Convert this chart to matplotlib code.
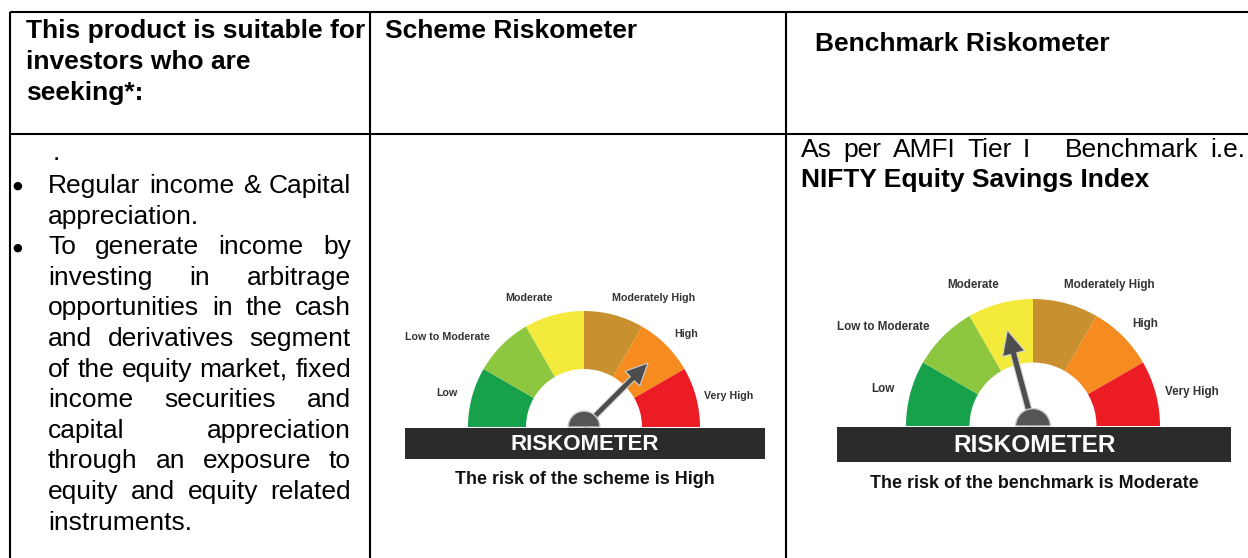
import numpy as np
import matplotlib.pyplot as plt
from matplotlib.patches import Wedge, Rectangle, FancyArrow

plt.rcParams['font.family'] = ['Liberation Sans', 'DejaVu Sans']

# riskometer data
risk_levels = ["Low", "Low to Moderate", "Moderate", "Moderately High", "High", "Very High"]
risk_colors = ["#17a14b", "#8dc63f", "#f3ea3b", "#c8902f", "#f68b1f", "#ec1c24"]
scheme_risk = "High"
benchmark_risk = "Moderate"

# table text
header_left = ["This product is suitable for", "investors who are", "seeking*:"]
header_scheme = "Scheme Riskometer"
header_bench = "Benchmark Riskometer"
objective_lines = [
    ("Regular income & Capital", True, True),
    ("appreciation.", False, False),
    ("To generate income by", True, True),
    ("investing in arbitrage", True, False),
    ("opportunities in the cash", True, False),
    ("and derivatives segment", True, False),
    ("of the equity market, fixed", True, False),
    ("income securities and", True, False),
    ("capital appreciation", True, False),
    ("through an exposure to", True, False),
    ("equity and equity related", True, False),
    ("instruments.", False, False),
]
bench_note = "As per AMFI Tier I   Benchmark i.e."
bench_name = "NIFTY Equity Savings Index"

# label offsets around the dial (in units of outer radius, x right / y up)
label_offsets = [(-1.18, 0.29), (-1.18, 0.78), (-0.47, 1.11),
                 (0.60, 1.11), (0.88, 0.80), (1.25, 0.27)]

W, H = 1248, 558
fig = plt.figure(figsize=(W / 100, H / 100), dpi=100)
ax = fig.add_axes([0, 0, 1, 1])
ax.set_xlim(0, W)
ax.set_ylim(H, 0)
ax.axis('off')
renderer = fig.canvas.get_renderer()

# table grid
lw = 1.5
for x in [10, 370, 786]:
    ax.plot([x, x], [12, H], color='black', lw=lw, solid_capstyle='butt')
for y in [12, 134]:
    ax.plot([10, W], [y, y], color='black', lw=lw, solid_capstyle='butt')


def put_line(x0, x1, y, s, justify, **kw):
    words = s.split(' ')
    if not justify or len(words) == 1:
        ax.text(x0, y, s, ha='left', va='baseline', **kw)
        return
    texts = [ax.text(0, y, w, ha='left', va='baseline', **kw) for w in words]
    widths = [t.get_window_extent(renderer).width if w else 0 for t, w in zip(texts, words)]
    gap = (x1 - x0 - sum(widths)) / (len(words) - 1)
    x = x0
    for t, w in zip(texts, widths):
        t.set_x(x)
        x += w + gap


fs = 19
# headers
for i, s in enumerate(header_left):
    ax.text(26, 38 + 31 * i, s, fontsize=fs, fontweight='bold', va='baseline')
ax.text(385, 38, header_scheme, fontsize=fs, fontweight='bold', va='baseline')
ax.text(815, 51, header_bench, fontsize=fs, fontweight='bold', va='baseline')

# objectives column
ax.text(53, 160, ".", fontsize=fs, va='baseline')
for i, (s, just, bullet) in enumerate(objective_lines):
    y = 193 + 30.6 * i
    if bullet:
        ax.text(17, y - 7, "\u25cf", fontsize=8, ha='center', va='center',
                family='DejaVu Sans')
    put_line(48, 351, y, s, just, fontsize=fs)

# benchmark note
put_line(801, 1245, 157, bench_note, True, fontsize=fs)
ax.text(801, 187, bench_name, fontsize=fs, fontweight='bold', va='baseline')


def draw_gauge(cx, cy, R, level, caption):
    r_in = 0.5 * R
    for i, c in enumerate(risk_colors):
        ax.add_patch(Wedge((cx, cy), R, 180 + 30 * i, 210 + 30 * i,
                           width=R - r_in, facecolor=c, edgecolor='none'))
    k = 0.066 * R  # label font size
    for name, (dx, dy) in zip(risk_levels, label_offsets):
        ax.text(cx + dx * R, cy - dy * R, name, fontsize=k, fontweight='bold',
                color='#333333', ha='center', va='center')
    idx = risk_levels.index(level)
    a = np.radians(180 - 30 * idx - 15)
    L = 0.78 * R
    ax.add_patch(FancyArrow(cx, cy, L * np.cos(a), -L * np.sin(a), width=0.05 * R,
                            head_width=0.18 * R, head_length=0.19 * R,
                            length_includes_head=True, facecolor='#4d4d4d',
                            edgecolor='#d0d0d0', lw=0.8))
    ax.add_patch(Wedge((cx, cy), 0.137 * R, 180, 360, facecolor='#555555',
                       edgecolor='#cccccc', lw=1))
    ax.add_patch(Rectangle((cx - 1.54 * R, cy + 0.01 * R), 3.1 * R, 0.27 * R,
                           facecolor='#2b2b2b', edgecolor='none'))
    ax.text(cx + 0.01 * R, cy + 0.155 * R, "RISKOMETER", fontsize=0.138 * R,
            fontweight='bold', color='white', ha='center', va='center')
    ax.text(cx + 0.01 * R, cy + 0.455 * R, caption, fontsize=12.9,
            fontweight='bold', color='#111111', ha='center', va='center')


draw_gauge(584, 427, 116, scheme_risk, "The risk of the scheme is " + scheme_risk)
draw_gauge(1033, 426, 127, benchmark_risk, "The risk of the benchmark is " + benchmark_risk)

fig.savefig('out.png', dpi=100)
